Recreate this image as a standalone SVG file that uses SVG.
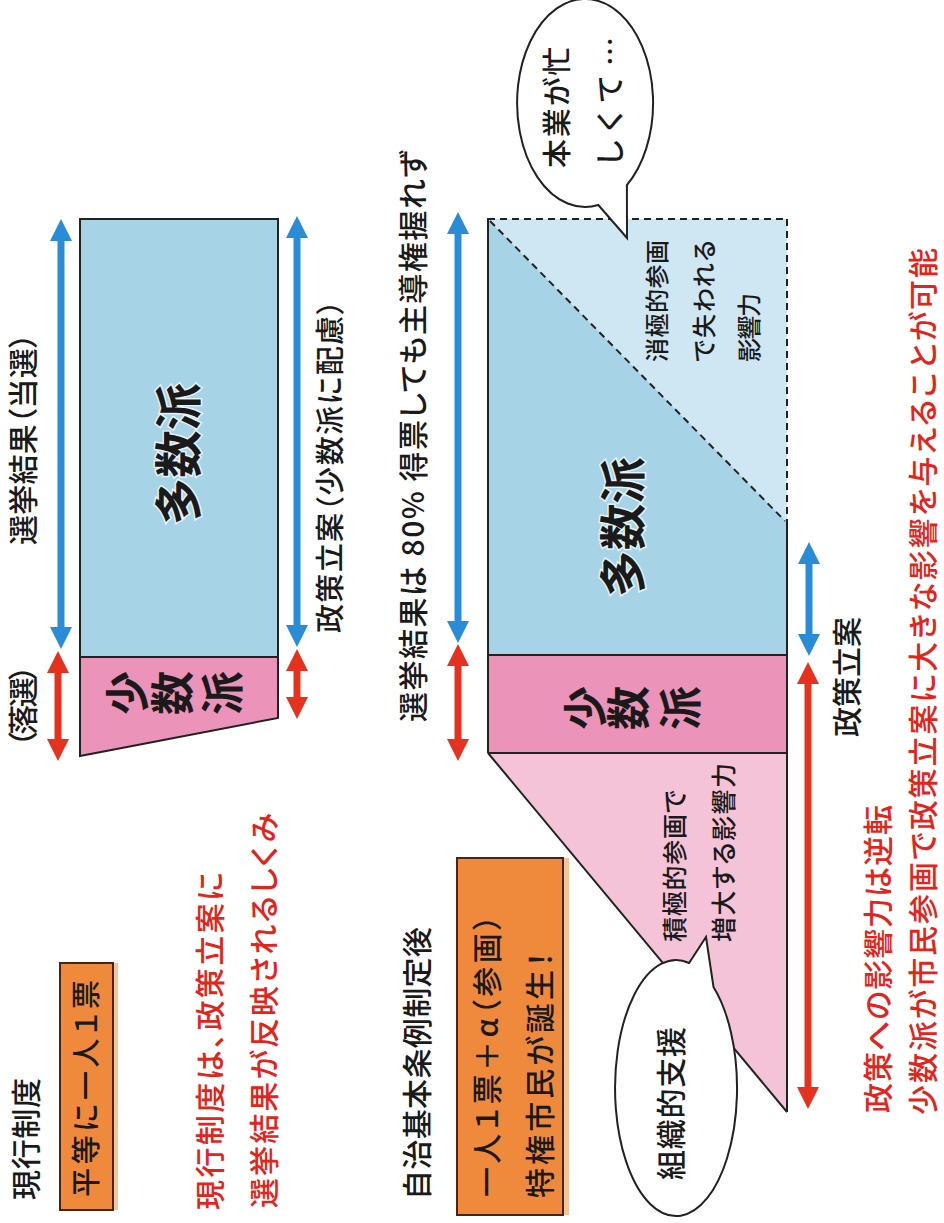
<svg xmlns="http://www.w3.org/2000/svg" width="944" height="1223" viewBox="0 0 944 1223">
<style>
text{font-family:"Noto Sans CJK JP","Noto Sans CJK SC",sans-serif;dominant-baseline:central;font-feature-settings:"palt";fill:#1a1a1a;font-weight:500}
.v{text-anchor:start}
.c{text-anchor:middle}
.red{fill:#e3241b}
.big{font-weight:700}
.halo{stroke:#e6f3f9;stroke-width:3;paint-order:stroke}
.out{fill:none;stroke:#222;stroke-width:2}
.dash{fill:none;stroke:#222;stroke-width:2;stroke-dasharray:7 5}
.blue{fill:#a7d3e7}
.lblue{fill:#cfe7f2}
.pink{fill:#eb93b9}
.lpink{fill:#f4c3d8}
.orange{fill:#ef893b;stroke:#4a2410;stroke-width:2}
.shadow{fill:#f5c49a}
.bub{fill:#fff;stroke:#222;stroke-width:2}
.ab{stroke:#2a8cd6;stroke-width:7;fill:none;marker-start:url(#hb);marker-end:url(#hb)}
.ar{stroke:#e5321f;stroke-width:7;fill:none;marker-start:url(#hr);marker-end:url(#hr)}
</style>
<defs>
<marker id="hb" viewBox="0 0 22 22" markerWidth="22" markerHeight="22" markerUnits="userSpaceOnUse" refX="1" refY="11" orient="auto-start-reverse"><path d="M0,0 L22,11 L0,22 Z" fill="#2a8cd6"/></marker>
<marker id="hr" viewBox="0 0 22 22" markerWidth="22" markerHeight="22" markerUnits="userSpaceOnUse" refX="1" refY="11" orient="auto-start-reverse"><path d="M0,0 L22,11 L0,22 Z" fill="#e5321f"/></marker>
</defs>
<rect width="944" height="1223" fill="#fff"/>

<!-- 現行制度 diagram -->
<g id="current-majority">
<rect class="blue" x="80" y="219" width="198" height="438"/>
<rect class="out" x="80" y="219" width="198" height="438"/>
<text class="v big halo" transform="translate(175,525) rotate(-90)" font-size="48" textLength="142" lengthAdjust="spacingAndGlyphs">多数派</text>
</g>
<g id="current-minority">
<polygon class="pink" points="80,657 278,657 278,718 80,756"/>
<polygon class="out" points="80,657 278,657 278,718 80,756"/>
<text class="c big" transform="translate(125,693) rotate(-90)" font-size="44">少</text>
<text class="c big" transform="translate(170,693) rotate(-90)" font-size="44">数</text>
<text class="c big" transform="translate(220,693) rotate(-90)" font-size="44">派</text>
</g>

<!-- 自治基本条例制定後 diagram -->
<g id="after-majority">
<polygon class="blue" points="488,219 787,522 787,655 488,655"/>
<polygon class="lblue" points="488,219 787,219 787,522"/>
<line class="dash" x1="488" y1="219" x2="787" y2="219"/>
<line class="dash" x1="787" y1="219" x2="787" y2="522"/>
<line class="dash" x1="490" y1="221" x2="785" y2="521"/>
<text class="v big halo" transform="translate(619,597) rotate(-90)" font-size="47" textLength="140" lengthAdjust="spacingAndGlyphs">多数派</text>
<text class="v" transform="translate(655,362) rotate(-90)" font-size="24" textLength="122">消極的参画</text>
<text class="v" transform="translate(702,362) rotate(-90)" font-size="24" textLength="122">で失われる</text>
<text class="v" transform="translate(747,362) rotate(-90)" font-size="24" textLength="69">影響力</text>
</g>
<g id="after-minority">
<rect class="pink" x="488" y="655" width="299" height="98"/>
<polygon class="lpink" points="488,753 787,753 787,1112"/>
<text class="c big" transform="translate(583,708) rotate(-90)" font-size="44">少</text>
<text class="c big" transform="translate(626,708) rotate(-90)" font-size="44">数</text>
<text class="c big" transform="translate(678,708) rotate(-90)" font-size="44">派</text>
<text class="v" transform="translate(673,942) rotate(-90)" font-size="25" textLength="152">積極的参画で</text>
<text class="v" transform="translate(722,942) rotate(-90)" font-size="25" textLength="179">増大する影響力</text>
</g>
<g id="after-outline">
<line class="out" x1="488" y1="218" x2="488" y2="753"/>
<line class="out" x1="488" y1="655" x2="787" y2="655"/>
<line class="out" x1="488" y1="753" x2="787" y2="753"/>
<line class="out" x1="787" y1="522" x2="787" y2="1112"/>
<line class="out" x1="488" y1="753" x2="787" y2="1112"/>
</g>

<!-- speech bubbles -->
<g id="bubble-busy">
<path class="bub" d="M598.3,205 L627,238 L626.9,185 A68,104 0 1 0 598.3,205 Z"/>
<text class="v" transform="translate(555,168) rotate(-90)" font-size="29" textLength="121">本業が忙</text>
<text class="v" transform="translate(608,165) rotate(-90)" font-size="29" textLength="128">しくて…</text>
</g>
<g id="bubble-support">
<path class="bub" d="M689.1,963 L706,937 L713.5,987 A61,128 0 1 1 689.1,963 Z"/>
<text class="v" transform="translate(669,1180) rotate(-90)" font-size="30" textLength="153">組織的支援</text>
</g>

<!-- orange boxes -->
<g id="box-equal">
<rect class="shadow" x="64" y="963" width="54" height="247"/>
<rect class="orange" x="60" y="963" width="53" height="247"/>
<text class="v" transform="translate(84,1197) rotate(-90)" font-size="29" textLength="217">平等に一人１票</text>
</g>
<g id="box-privileged">
<rect class="shadow" x="461" y="858" width="108" height="357"/>
<rect class="orange" x="457" y="858" width="106" height="357"/>
<text class="v" transform="translate(485,1197) rotate(-90)" font-size="30" textLength="282">一人１票＋α（参画）</text>
<text class="v" transform="translate(538,1198) rotate(-90)" font-size="30" textLength="246">特権市民が誕生！</text>
</g>

<!-- connectors (arrows) -->
<g id="connectors">
<line class="ab" x1="61" y1="240" x2="61" y2="628"/>
<line class="ar" x1="58" y1="672" x2="58" y2="740"/>
<line class="ab" x1="297" y1="237" x2="297" y2="626"/>
<line class="ar" x1="297" y1="670" x2="297" y2="698"/>
<line class="ab" x1="458" y1="233" x2="458" y2="622"/>
<line class="ar" x1="458" y1="665" x2="458" y2="740"/>
<line class="ab" x1="809" y1="563" x2="809" y2="635"/>
<line class="ar" x1="808" y1="683" x2="808" y2="1088"/>
</g>

<!-- labels -->
<g id="labels">
<text class="v" transform="translate(24,1200) rotate(-90)" font-size="30" textLength="122">現行制度</text>
<text class="v" transform="translate(21,545) rotate(-90)" font-size="30" textLength="212">選挙結果（当選）</text>
<text class="v" transform="translate(21,747) rotate(-90)" font-size="30" textLength="82">（落選）</text>
<text class="v red" transform="translate(208,1210) rotate(-90)" font-size="30" textLength="338">現行制度は、政策立案に</text>
<text class="v red" transform="translate(262,1208) rotate(-90)" font-size="30" textLength="395">選挙結果が反映されるしくみ</text>
<text class="v" transform="translate(328,633) rotate(-90)" font-size="29" textLength="333">政策立案（少数派に配慮）</text>
<text class="v" transform="translate(411,722) rotate(-90)" font-size="30" textLength="572">選挙結果は 80% 得票しても主導権握れず</text>
<text class="v" transform="translate(415,1200) rotate(-90)" font-size="30" textLength="273">自治基本条例制定後</text>
<text class="v" transform="translate(845,737) rotate(-90)" font-size="30" textLength="120">政策立案</text>
<text class="v red" transform="translate(876,1113) rotate(-90)" font-size="30" textLength="308">政策への影響力は逆転</text>
<text class="v red" transform="translate(921,1115) rotate(-90)" font-size="30" textLength="867">少数派が市民参画で政策立案に大きな影響を与えることが可能</text>
</g>
</svg>
